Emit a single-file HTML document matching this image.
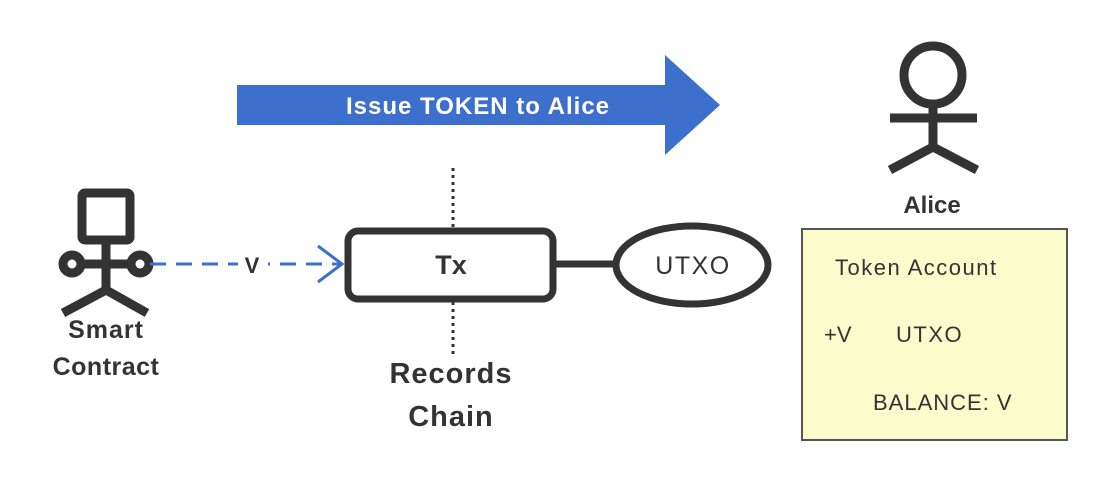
<!DOCTYPE html>
<html><head><style>
body{margin:0;background:#fff;}
svg text{font-family:"Comic Sans MS","Liberation Sans",sans-serif;fill:#333;}
</style></head><body>
<svg width="1104" height="482" viewBox="0 0 1104 482" xmlns="http://www.w3.org/2000/svg">
<polygon points="237,85 665,85 665,55 720,105 665,155 665,125 237,125" fill="#3d6fcc"/>
<text x="478" y="114" font-size="24" font-weight="bold" text-anchor="middle" letter-spacing="1" style="fill:#fff">Issue TOKEN to Alice</text>
<g stroke="#333" stroke-width="9" fill="none" stroke-linecap="butt">
<circle cx="933" cy="75" r="29"/>
<line x1="890" y1="118" x2="977" y2="118"/>
<line x1="933" y1="104" x2="933" y2="147"/>
<polyline points="890,170 933,147 977,170"/>
<rect x="82" y="193" width="48" height="47" rx="3"/>
<line x1="106" y1="240" x2="106" y2="290"/>
<line x1="82" y1="264" x2="128" y2="264"/>
<circle cx="72" cy="264" r="9"/>
<circle cx="140" cy="264" r="9"/>
<polyline points="63,313 106,290 147,313"/>
<rect x="348" y="231" width="205" height="68" rx="10" stroke-width="7"/>
<line x1="553" y1="264" x2="615" y2="264" stroke-width="7"/>
<ellipse cx="692" cy="265" rx="76" ry="39" stroke-width="7"/>
</g>
<text x="106" y="338" font-size="25" font-weight="bold" text-anchor="middle" letter-spacing="1">Smart</text>
<text x="106" y="375" font-size="25" font-weight="bold" text-anchor="middle" letter-spacing="0.5">Contract</text>
<line x1="150" y1="264" x2="340" y2="264" stroke="#3d6fcc" stroke-width="3" stroke-dasharray="16,10"/>
<rect x="238" y="250" width="30" height="26" fill="#fff"/>
<text x="252" y="273" font-size="22" font-weight="bold" text-anchor="middle">V</text>
<polyline points="318,246 342,264 318,282" stroke="#3d6fcc" stroke-width="3" fill="none"/>
<line x1="453" y1="168" x2="453" y2="228" stroke="#333" stroke-width="3" stroke-dasharray="3,4"/>
<line x1="453" y1="302" x2="453" y2="356" stroke="#333" stroke-width="3" stroke-dasharray="3,4"/>
<text x="451" y="274" font-size="27" font-weight="bold" text-anchor="middle">Tx</text>
<text x="693" y="274" font-size="25" text-anchor="middle" letter-spacing="1.5">UTXO</text>
<text x="451" y="383" font-size="29" font-weight="bold" text-anchor="middle" letter-spacing="1">Records</text>
<text x="451" y="426" font-size="29" font-weight="bold" text-anchor="middle" letter-spacing="1">Chain</text>
<text x="932" y="213" font-size="24" font-weight="bold" text-anchor="middle">Alice</text>
<rect x="802" y="229" width="265" height="211" fill="#fbfbcc" stroke="#555" stroke-width="2"/>
<text x="835" y="275" font-size="22" letter-spacing="1.5">Token Account</text>
<text x="824" y="342" font-size="22">+V</text>
<text x="896" y="342" font-size="22" letter-spacing="1.5">UTXO</text>
<text x="873" y="410" font-size="22" letter-spacing="1">BALANCE: V</text>
</svg>
</body></html>
